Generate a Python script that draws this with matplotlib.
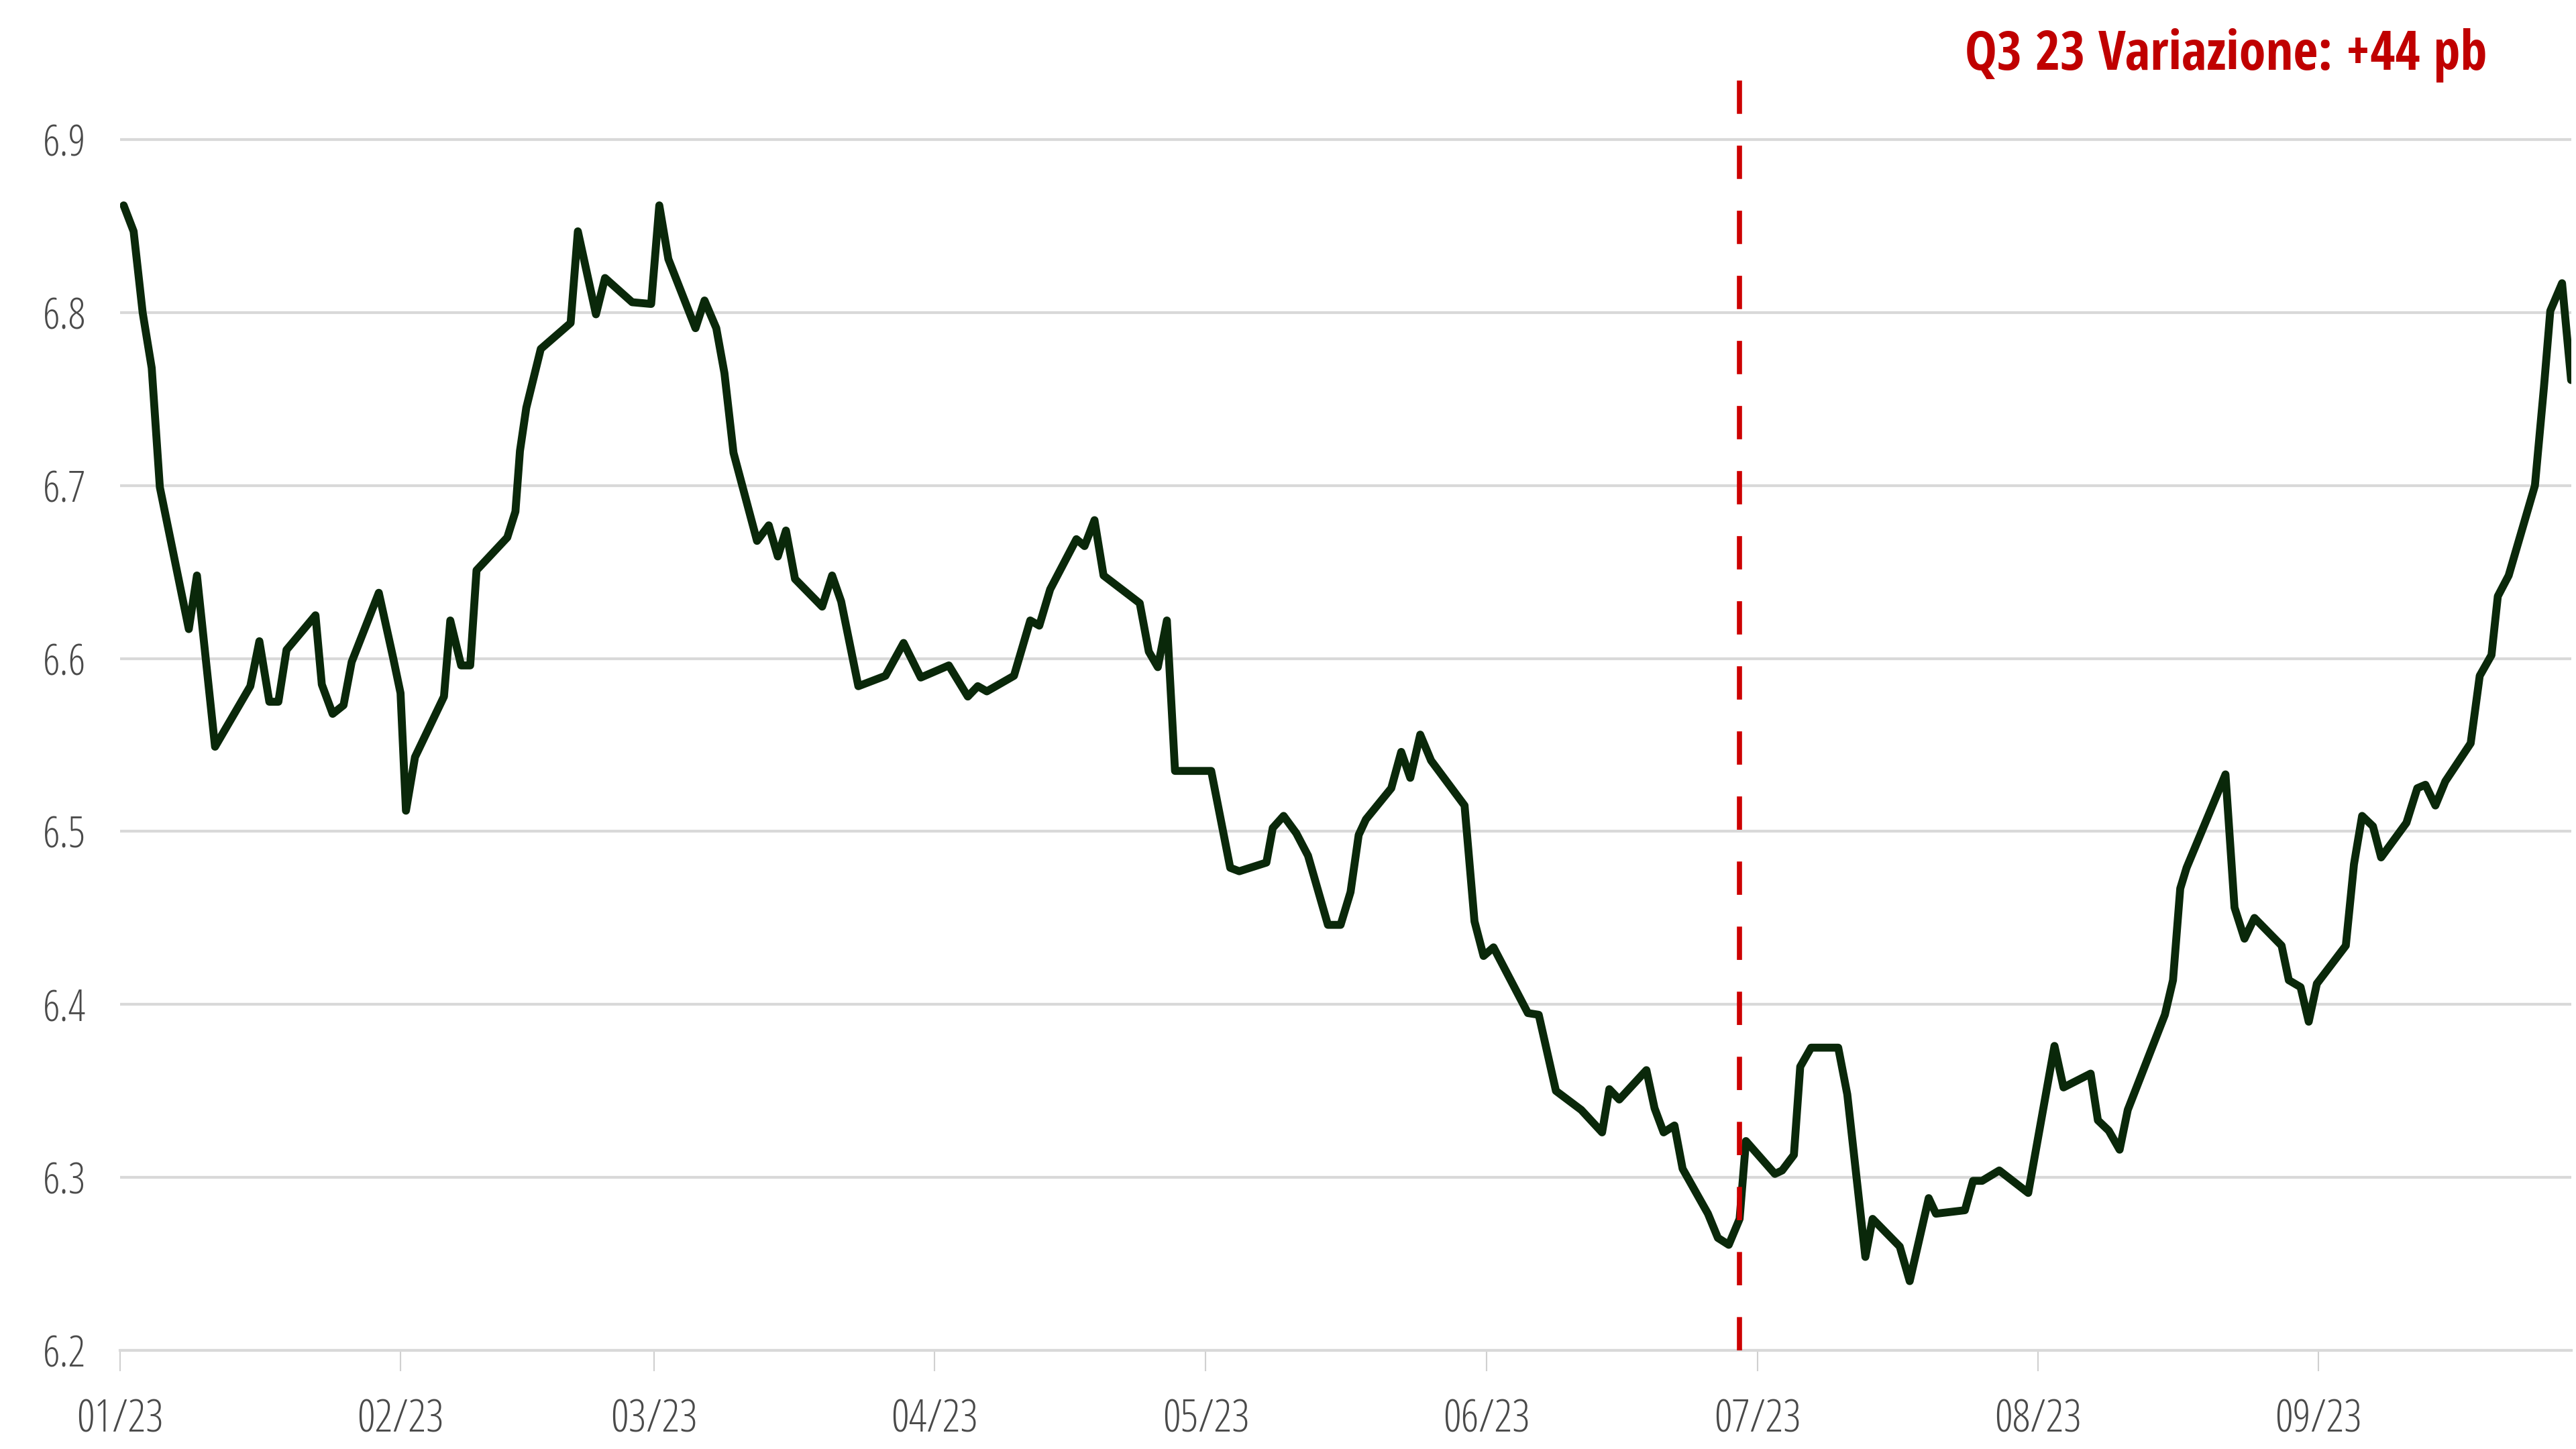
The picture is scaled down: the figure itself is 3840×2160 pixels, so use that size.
import matplotlib
matplotlib.use("Agg")
import matplotlib.pyplot as plt
import pandas as pd

plt.rcParams['font.family'] = ['Open Sans', 'DejaVu Sans']

# ---- data ----
start_date = "2023-01-01"
# days elapsed since start_date for each observation
days = [
    0.4, 1.5, 2.5, 3.5, 4.4, 7.6, 8.5, 10.5, 14.4, 15.4, 16.5, 17.5, 18.4, 21.6, 22.3, 23.5,
    24.7, 25.6, 28.6, 30.2, 31.0, 31.6, 32.6, 35.8, 36.5, 37.7, 38.7, 39.4, 42.8, 43.7, 44.2,
    44.9, 46.5, 49.8, 50.6, 52.6, 53.6,
    56.6, 58.7, 59.6, 60.6, 63.6, 64.6, 65.9, 66.8, 67.8, 70.4, 71.7, 72.7, 73.6, 74.6, 77.6,
    78.7, 79.7, 81.6, 84.6, 86.6, 88.5, 91.6, 93.7, 94.8, 95.8, 98.8, 100.6, 101.6, 102.8, 105.7,
    106.6, 107.7, 108.7, 112.7, 113.7, 114.7, 115.7, 116.6, 120.6, 122.7, 123.7, 126.7, 127.4,
    128.6, 130.0, 131.3, 133.5, 134.9, 136.0, 136.9, 137.7, 140.5, 141.6, 142.6, 143.7, 144.9,
    148.6, 149.7, 150.7, 151.8, 155.6, 156.8,
    158.7, 161.5, 163.8, 164.6, 165.7, 168.7, 169.6, 170.6, 171.8, 172.7, 175.5, 176.6, 177.8,
    179.0, 179.7, 182.9, 183.7, 185.0, 185.7, 186.9, 189.9, 190.9, 192.9, 193.7, 196.7, 197.8,
    199.9, 200.7, 203.9, 204.8, 205.8, 207.7, 210.9,
    213.8, 214.8, 217.8, 218.6, 219.8, 221.0, 221.9, 226.0, 226.9, 227.7, 228.4, 232.7, 233.7,
    234.8, 235.9, 238.9, 239.7, 241.0, 241.9, 242.8, 246.0, 246.9, 247.8, 249.0, 249.9, 252.7,
    253.9, 254.8, 255.9, 257.0, 259.8, 260.8, 262.1, 262.8, 264.0, 266.9, 267.9, 268.6, 269.9,
    270.9,
]
values = [
    6.862, 6.847, 6.800, 6.768, 6.699, 6.617, 6.648, 6.549, 6.584, 6.610, 6.575, 6.575, 6.605,
    6.625, 6.585, 6.568, 6.573, 6.598, 6.638, 6.600, 6.580, 6.512, 6.543, 6.578, 6.622, 6.596,
    6.596, 6.651, 6.670, 6.685, 6.720, 6.745, 6.779, 6.794, 6.847, 6.799, 6.820,
    6.806, 6.805, 6.862, 6.831, 6.791, 6.807, 6.791, 6.765, 6.719, 6.668, 6.677, 6.659, 6.674,
    6.646, 6.630, 6.648, 6.633, 6.584, 6.590, 6.609, 6.589, 6.596, 6.578, 6.584, 6.581, 6.590,
    6.622, 6.619, 6.640, 6.669,
    6.665, 6.680, 6.648, 6.632, 6.604, 6.595, 6.622, 6.535, 6.535, 6.479, 6.477, 6.482, 6.502,
    6.509, 6.499, 6.486, 6.446, 6.446, 6.465, 6.498, 6.507, 6.525, 6.546, 6.531, 6.556, 6.541,
    6.515, 6.448, 6.428, 6.433, 6.395, 6.394,
    6.350, 6.339, 6.326, 6.351, 6.345, 6.362, 6.340, 6.326, 6.330, 6.305, 6.279, 6.265, 6.261,
    6.276, 6.321, 6.302, 6.304, 6.313, 6.364, 6.375, 6.375, 6.348, 6.254, 6.276, 6.260, 6.240,
    6.288, 6.279, 6.281, 6.298, 6.298, 6.304, 6.291,
    6.376, 6.352, 6.360, 6.333, 6.327, 6.316, 6.339, 6.394, 6.414, 6.467, 6.479, 6.533, 6.456,
    6.438, 6.450, 6.434, 6.414, 6.410, 6.390, 6.412, 6.434, 6.481, 6.509, 6.503, 6.485, 6.505,
    6.525, 6.527, 6.515, 6.529, 6.551, 6.590, 6.602, 6.636, 6.648, 6.700, 6.757, 6.801, 6.817,
    6.761,
]
quarter_marker = "2023-06-29"
y_ticks = [6.2, 6.3, 6.4, 6.5, 6.6, 6.7, 6.8, 6.9]
y_tick_labels = ["6.2", "6.3", "6.4", "6.5", "6.6", "6.7", "6.8", "6.9"]
month_ticks = ["2023-01-01", "2023-02-01", "2023-03-01", "2023-04-01", "2023-05-01",
               "2023-06-01", "2023-07-01", "2023-08-01", "2023-09-01"]
month_labels = ["01/23", "02/23", "03/23", "04/23", "05/23", "06/23", "07/23", "08/23", "09/23"]
title_text = "Q3 23 Variazione: +44 pb"

# ---- figure ----
dates = pd.Timestamp(start_date) + pd.to_timedelta(days, unit="D")

fig = plt.figure(figsize=(38.4, 21.6), dpi=100)
ax = fig.add_axes([0.0466, 0.0681, 0.9515, 0.8773])

ax.plot(dates, values, color="#0a280a", lw=8.5, solid_joinstyle="round",
        solid_capstyle="round", zorder=3)
ax.axvline(pd.Timestamp(quarter_marker), color="#cc0000", lw=5.5,
           dashes=(6.5, 6.2), zorder=4)

ax.set_xlim(pd.Timestamp(start_date), dates[-1])
ax.set_ylim(6.2, 6.935)

ax.set_yticks(y_ticks)
ax.set_yticklabels(y_tick_labels)
ax.set_xticks([pd.Timestamp(d) for d in month_ticks])
ax.set_xticklabels(month_labels)

ax.yaxis.grid(True, color="#d9d9d9", lw=3)
ax.xaxis.grid(False)
ax.set_axisbelow(True)
for s in ["top", "right", "left"]:
    ax.spines[s].set_visible(False)
ax.spines["bottom"].set_color("#d9d9d9")
ax.spines["bottom"].set_linewidth(3)

ax.tick_params(axis="y", length=0, pad=37, labelsize=46, labelcolor="#4a4a4a")
ax.tick_params(axis="x", length=22, width=1.5, color="#d0d0d0", direction="out",
               pad=29, labelsize=48, labelcolor="#4a4a4a")
for lab in ax.get_xticklabels() + ax.get_yticklabels():
    lab.set_fontfamily(["Open Sans", "DejaVu Sans"])
    lab.set_fontstretch("condensed")
    lab.set_fontweight("light")

fig.text(0.864, 0.952, title_text, color="#c00000", fontsize=58, fontweight="bold",
         family=["Open Sans Condensed", "DejaVu Sans"], ha="center", va="baseline")

fig.savefig("out.png", dpi=100, facecolor="white")
